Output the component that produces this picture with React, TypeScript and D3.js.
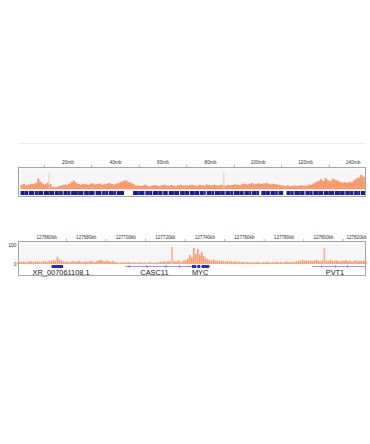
import React from "react";
import * as d3 from "d3";

// ---------- Chromosome overview (chr8) ----------
const chrLengthMb = 145.14;
const chrTickLabels = [20, 40, 60, 80, 100, 120, 140];
const chrTickMarks = [10, 30, 50, 70, 90, 110, 130];
// coverage per 1 Mb bin, starting at 0 Mb
const chrCoverage = [
  24, 28, 22, 26, 30, 27, 33, 55, 40, 30, 26, 34, 28,
  16, 12, 14, 18, 22,
  26, 24, 30, 38, 46, 35,
  28, 25, 30, 27, 24, 29, 32, 26, 28, 31, 25, 27, 30, 33, 28, 26, 31, 35,
  40, 45, 48, 38, 34, 30,
  22, 20, 18, 21, 24, 19, 17, 20, 23, 21, 18, 22, 25, 20, 19, 23, 21, 18, 22, 24, 20,
  22, 20, 23, 25, 21, 19, 24, 22, 20, 26, 23, 21, 25, 22, 20, 24, 22, 19, 23, 21, 25, 27, 24, 22,
  28, 31, 26, 29, 33, 27, 30, 32, 28, 31, 34, 29, 26, 30, 27, 24, 22, 20,
  18, 20, 17, 19, 21, 18, 20, 22, 19, 21, 24, 26,
  32, 38, 45, 52, 44, 58, 48, 42, 55, 50, 46, 40,
  36, 38, 34, 40, 37,
  48, 56, 62, 74, 66,
];
const chrSpikeMb = [12.0, 85.6];
const chrSpikeValue = [85, 90];
// white gaps in the gene-density bar, [start, end] in Mb
const chrGeneGaps: [number, number][] = [
  [3.2, 3.5], [5.8, 6.1], [9.5, 9.8], [14.2, 14.5], [17.8, 18.1], [21, 21.3],
  [26.5, 26.8], [31.2, 31.6], [34.1, 34.4], [36.9, 37.2], [40.2, 40.5],
  [43.6, 47.4], [52.2, 52.6], [55.5, 55.8], [59.8, 60.1], [62, 62.4], [66.8, 67.2],
  [71, 71.3], [75.3, 75.6], [78, 78.4], [81.6, 81.9], [86, 86.3], [89.5, 89.8],
  [94, 94.3], [97.2, 97.5], [100.5, 101.4], [105, 105.3], [108.3, 108.6],
  [110.6, 112.0], [115, 115.3], [119.6, 120.0], [123, 123.3], [127.4, 127.7],
  [132, 132.3], [136.5, 136.8], [140.2, 140.5], [143, 143.3],
];
// lighter-blue stripes inside the gene-density bar, in Mb
const chrGeneLight = [
  1.5, 7.2, 11.8, 16, 19.5, 24, 28.6, 35.5, 39, 49.5, 54, 57.8, 64.5, 69, 73.2,
  77, 80.2, 84, 88, 92, 96, 99.2, 103, 107, 113.5, 117.4, 121.6, 125.2, 129.5,
  134.2, 138.4, 142,
];

// ---------- Locus view (MYC region) ----------
const locusStartKb = 127645.5;
const locusEndKb = 127821.5;
const locusTickLabels = [127660, 127680, 127700, 127720, 127740, 127760, 127780, 127800, 127820];
const locusTickMarks = [127670, 127690, 127710, 127730, 127750, 127770, 127790, 127810];
const locusYTicks = [100, 0];
// coverage per 1 kb bin, starting at 127645 kb
const locusCoverage = [
  8, 12, 10, 14, 9, 11, 15, 13, 10, 12,
  14, 11, 9, 16, 13, 12, 18, 15, 20, 17,
  38, 24, 18, 14, 11, 13, 10, 12, 15, 11,
  13, 16, 12, 10, 14, 11, 13, 17, 12, 10,
  15, 19, 22, 16, 13, 18, 14, 12, 16, 11,
  9, 7, 8, 10, 6, 9, 11, 8, 7, 9,
  6, 8, 10, 7, 9, 5, 8, 11, 7, 6,
  9, 8, 12, 10, 14, 11, 16, 13, 90, 15,
  12, 18, 14, 11, 20, 20, 28, 47, 35, 84,
  52, 79, 48, 63, 42, 30, 25, 20, 18, 24,
  16, 20, 14, 18, 15, 12, 17, 13, 15, 11,
  14, 10, 12, 9, 13, 8, 11, 10, 7, 9,
  8, 11, 9, 6, 10, 8, 12, 9, 7, 10,
  9, 12, 8, 11, 7, 10, 13, 9, 11, 8,
  10, 14, 18, 15, 22, 17, 20, 16, 19, 15,
  18, 21, 17, 14, 20, 85, 19, 16, 22, 18,
  15, 20, 17, 13, 18, 16, 21, 14, 17, 12,
  16, 19, 13, 17, 15, 18, 14,
];
const geneNames = ["XR_007061108.1", "CASC11", "MYC", "PVT1"];
const geneStarts = [127662.5, 127699.6, 127731.0, 127794.2];
const geneEnds = [127668.3, 127733.0, 127743.1, 127821.5];
const geneExons: [number, number][][] = [
  [[127662.5, 127668.3]],
  [[127701.5, 127702.0], [127710.5, 127711.0], [127720.0, 127720.5], [127727.0, 127727.5]],
  [[127733.5, 127735.6], [127736.2, 127737.6], [127738.4, 127742.1]],
  [[127799.0, 127799.4], [127806.0, 127806.4], [127812.0, 127812.4]],
];
const geneLabelKb = [127667.3, 127714.5, 127737.6, 127805.8];

const FONT = "'Liberation Sans', Arial, Helvetica, sans-serif";
const ORANGE = "#fd9b6c";
const PALE = "#f7c4ae";

export default function App() {
  const W = 370, H = 444;
  const boxL = 18, boxR = 366;

  // top panel geometry
  const tBoxTop = 167, tBoxBot = 197, tBase = 189.5;
  const xChr = d3.scaleLinear().domain([0, chrLengthMb]).range([20.5, 365.2]);
  const yChr = d3.scaleLinear().domain([0, 100]).range([tBase, 170]);
  const chrArea = d3
    .area<number>()
    .x((_, i) => xChr(i))
    .y0(tBase)
    .y1((d) => yChr(d))
    .curve(d3.curveStepAfter);
  const chrData = [...chrCoverage, chrCoverage[chrCoverage.length - 1]];

  // bottom panel geometry
  const bBoxTop = 241, bBoxBot = 276, bBase = 264;
  const xLoc = d3.scaleLinear().domain([locusStartKb, locusEndKb]).range([boxL, boxR]);
  const yLoc = d3.scaleLinear().domain([0, 100]).range([bBase, 245]);
  const locBars = locusCoverage.map((v, i) => ({ kb: 127645 + i, v }));

  const geneY = 266.5;

  return (
    <div style={{ position: "absolute", left: 0, top: 0, width: W, height: H, background: "#fff" }}>
      <svg width={W} height={H} style={{ display: "block" }} fontFamily={FONT}>
        <rect width={W} height={H} fill="#fff" />
        {/* faint separator line */}
        <line x1={boxL} x2={boxR} y1={143.5} y2={143.5} stroke="#ececec" strokeWidth={1} />

        {/* ---- top panel ---- */}
        {chrTickLabels.map((t) => (
          <text key={"tl" + t} x={xChr(t)} y={164} fontSize={4.8} textAnchor="middle" fill="#333">
            {t}mb
          </text>
        ))}
        {chrTickMarks.map((t) => (
          <line key={"tm" + t} x1={xChr(t)} x2={xChr(t)} y1={164.5} y2={tBoxTop} stroke="#999" strokeWidth={0.8} />
        ))}
        <rect x={boxL} y={tBoxTop} width={boxR - boxL} height={tBase - tBoxTop} fill="#f6f6f6" />
        <line x1={boxL} x2={boxR} y1={tBoxTop + 2} y2={tBoxTop + 2} stroke="#fff" strokeWidth={1} />
        <path d={chrArea(chrData) || ""} fill={ORANGE} />
        {chrSpikeMb.map((m, i) => (
          <rect key={"sp" + i} x={xChr(m) - 0.5} width={1} y={yChr(chrSpikeValue[i])} height={tBase - yChr(chrSpikeValue[i])} fill={PALE} />
        ))}
        <rect x={boxL} y={tBase} width={boxR - boxL} height={1.5} fill="#fff" />
        <rect x={xChr(0)} y={191} width={xChr(chrLengthMb) - xChr(0)} height={4} fill="#1a1a9a" />
        {chrGeneLight.map((m, i) => (
          <rect key={"gl" + i} x={xChr(m)} y={191} width={1.2} height={4} fill="#4a4ad0" />
        ))}
        {chrGeneGaps.map(([s, e], i) => (
          <rect key={"gg" + i} x={xChr(s)} y={191} width={Math.max(0.7, xChr(e) - xChr(s))} height={4} fill="#fff" />
        ))}
        <rect x={boxL + 0.5} y={tBoxTop + 0.5} width={boxR - boxL - 1} height={tBoxBot - tBoxTop - 1} fill="none" stroke="#a6a6a6" strokeWidth={1} />

        {/* ---- bottom panel ---- */}
        {locusTickLabels.map((t) => {
          const x = Math.min(xLoc(t), boxR - 9.5);
          return (
            <text key={"ll" + t} x={x} y={239} fontSize={4.6} textAnchor="middle" fill="#333">
              {t}kb
            </text>
          );
        })}
        {locusTickMarks.map((t) => (
          <line key={"lm" + t} x1={xLoc(t)} x2={xLoc(t)} y1={239} y2={bBoxTop} stroke="#999" strokeWidth={0.8} />
        ))}
        {locusYTicks.map((t) => (
          <text key={"ly" + t} x={16.5} y={yLoc(t) + 1.8} fontSize={5} textAnchor="end" fill="#333">
            {t}
          </text>
        ))}
        <rect x={boxL} y={bBoxTop} width={boxR - boxL} height={bBase - bBoxTop} fill="#f6f6f6" />
        <line x1={boxL} x2={boxR} y1={bBoxTop + 2.5} y2={bBoxTop + 2.5} stroke="#fff" strokeWidth={1} />
        {locBars.map((d, i) => (
          <rect
            key={"lb" + i}
            x={xLoc(d.kb)}
            width={Math.max(0.6, xLoc(d.kb + 1) - xLoc(d.kb) - 0.3)}
            y={yLoc(d.v)}
            height={bBase - yLoc(d.v)}
            fill={d.v > 80 && (i === 78 || i === 155) ? "#f7b49a" : ORANGE}
          />
        ))}
        {/* genes */}
        {geneNames.map((g, i) => (
          <g key={g}>
            <line x1={xLoc(geneStarts[i])} x2={Math.min(boxR - 1, xLoc(geneEnds[i]))} y1={geneY} y2={geneY} stroke="#6a6ae6" strokeWidth={0.7} />
            {geneExons[i].map(([s, e], j) => (
              <rect
                key={j}
                x={xLoc(s)}
                width={Math.max(0.8, xLoc(e) - xLoc(s))}
                y={geneY - (i === 0 || i === 2 ? 1.5 : 1)}
                height={i === 0 || i === 2 ? 3 : 2}
                fill={i === 0 || i === 2 ? "#2a2ac8" : "#5050d8"}
              />
            ))}
            <text x={xLoc(geneLabelKb[i])} y={274.5} fontSize={7.4} textAnchor="middle" fill="#222">
              {g}
            </text>
          </g>
        ))}
        <rect x={boxL + 0.5} y={bBoxTop + 0.5} width={boxR - boxL - 1} height={bBoxBot - bBoxTop - 1} fill="none" stroke="#a6a6a6" strokeWidth={1} />
        <rect x={40} y={bBoxBot - 0.5} width={6} height={1.2} fill="#bbb" />
      </svg>
    </div>
  );
}
